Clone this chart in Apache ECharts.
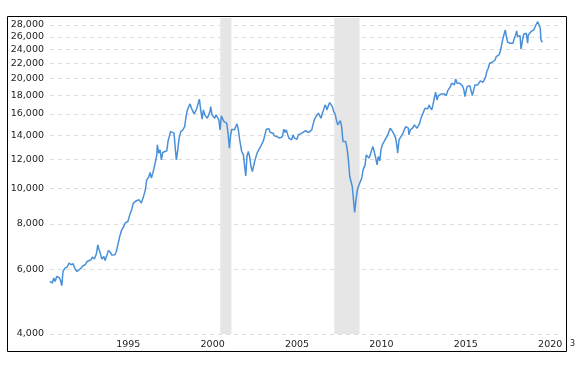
<!DOCTYPE html>
<html>
<head>
<meta charset="utf-8">
<script src="https://cdn.jsdelivr.net/npm/echarts@6/dist/echarts.min.js"></script>
<style>
html,body{margin:0;padding:0;background:#fff;}
#chart{width:583px;height:365px;}
</style>
</head>
<body>
<div id="chart"></div>
<script>
// Decimal-year dates and index values
const dates = [
1991.07,1991.14,1991.22,1991.30,1991.38,1991.48,1991.62,1991.69,1991.78,1991.85,1991.97,
1992.09,1992.21,1992.33,1992.45,1992.57,1992.68,1992.80,1992.92,
1993.04,1993.16,1993.28,1993.39,1993.51,1993.59,1993.71,1993.83,1993.91,1993.99,
1994.06,1994.15,1994.27,1994.34,1994.46,1994.54,1994.66,1994.74,1994.82,1994.93,
1995.01,1995.10,1995.21,1995.33,1995.45,1995.53,1995.60,1995.69,1995.76,1995.84,1995.92,
1996.00,1996.12,1996.24,1996.36,1996.49,1996.61,1996.73,1996.81,1996.93,
1997.01,1997.09,1997.17,1997.29,1997.41,1997.44,1997.52,1997.60,1997.68,1997.76,1997.88,
1998.00,1998.07,1998.15,1998.23,1998.31,1998.43,1998.51,1998.57,1998.65,1998.73,1998.83,1998.95,
1999.06,1999.14,1999.22,1999.30,1999.38,1999.46,1999.54,1999.62,1999.69,1999.78,1999.85,1999.93,
2000.01,2000.09,2000.17,2000.25,2000.33,2000.40,2000.49,2000.56,2000.60,2000.68,2000.76,2000.84,2000.92,
2001.00,2001.08,2001.16,2001.23,2001.32,2001.39,2001.47,2001.55,2001.63,2001.71,2001.77,2001.85,2001.93,
2002.00,2002.09,2002.16,2002.24,2002.32,2002.44,2002.54,2002.59,2002.68,2002.75,2002.83,2002.91,2002.99,
2003.07,2003.15,2003.23,2003.35,2003.47,2003.58,2003.66,2003.74,2003.82,2003.90,2003.98,
2004.06,2004.13,2004.22,2004.30,2004.37,2004.45,2004.53,2004.61,2004.69,2004.77,2004.85,2004.93,
2005.01,2005.08,2005.17,2005.24,2005.32,2005.40,2005.48,2005.56,2005.64,2005.72,2005.79,2005.88,
2006.00,2006.11,2006.23,2006.31,2006.39,2006.50,2006.59,2006.66,2006.74,2006.82,2006.90,2006.98,
2007.06,2007.14,2007.22,2007.30,2007.38,2007.45,2007.49,2007.57,2007.65,2007.73,2007.81,2007.89,2007.97,
2008.04,2008.13,2008.20,2008.28,2008.36,2008.44,2008.52,2008.60,2008.68,2008.76,2008.84,2008.92,2008.99,
2009.08,2009.13,2009.21,2009.29,2009.39,2009.47,2009.55,2009.63,2009.75,2009.82,2009.91,2009.98,
2010.06,2010.14,2010.22,2010.30,2010.38,2010.46,2010.53,2010.62,2010.69,2010.77,2010.85,2010.93,
2011.01,2011.09,2011.17,2011.24,2011.33,2011.40,2011.48,2011.56,2011.64,2011.68,2011.76,2011.84,2011.92,
2012.00,2012.07,2012.16,2012.23,2012.31,2012.35,2012.43,2012.51,2012.59,2012.67,2012.75,2012.83,2012.90,2012.99,
2013.06,2013.14,2013.22,2013.30,2013.38,2013.46,2013.54,2013.61,2013.70,2013.77,2013.85,2013.93,
2014.01,2014.09,2014.17,2014.25,2014.32,2014.41,2014.48,2014.56,2014.64,2014.72,2014.80,2014.88,2014.96,
2015.04,2015.12,2015.20,2015.27,2015.36,2015.43,2015.51,2015.59,2015.67,2015.71,2015.79,2015.86,2015.95,
2016.02,2016.10,2016.18,2016.26,2016.34,2016.42,2016.50,2016.58,2016.66,2016.74,2016.81,2016.90,2016.97,
2017.05,2017.13,2017.21,2017.29,2017.37,2017.45,2017.52,2017.61,2017.68,2017.76,2017.84,2017.92,
2018.00,2018.06,2018.12,2018.20,2018.28,2018.35,2018.44,2018.51,2018.59,2018.67,2018.73,2018.79,2018.87,2018.93,2018.99,
2019.06,2019.15,2019.22,2019.30,2019.38,2019.42,2019.50,2019.58,2019.66,2019.74,2019.82,2019.89,2019.98,
2020.05,2020.13,2020.17,2020.25
];
const values = [
5570,5628,5513,5689,5569,5747,5711,5628,5420,5930,6058,
6097,6252,6185,6224,6020,5930,5993,6058,
6146,6185,6316,6276,6383,6493,6412,6629,7015,6797,
6658,6412,6518,6355,6587,6768,6684,6575,6493,6587,
6726,7015,7391,7709,7872,8042,7956,8124,8210,8564,8743,
9081,9213,9271,9311,9121,9472,9916,10560,10742,
11058,10675,11016,11605,12359,13161,12493,12754,11976,12541,12620,
12675,13439,13868,14312,14222,14170,12754,11976,12754,13730,14312,14464,
14769,15728,16403,16749,17035,16581,16749,15997,16230,16581,17035,17546,
16403,15472,16403,15895,15728,15570,15728,16230,16749,15895,15993,15570,15895,
16068,15403,14464,15797,15669,15241,15336,15091,14168,12892,13868,14529,14621,
14464,14769,15021,14464,13582,12620,12359,11731,10830,12229,12620,12229,11483,
11127,11246,11976,12493,12811,13080,13304,13582,13730,14529,14649,
14557,14222,14106,14170,13930,13990,13868,13816,13730,13582,13868,14529,
14222,14464,14016,13730,13868,13582,14016,13730,13868,13641,14016,14170,
14170,14312,14401,14529,14222,14222,14464,14926,15403,15669,15797,16068,
15997,15570,16068,16476,16927,16686,16403,16822,17176,17176,16749,16230,15997,
15472,14926,15088,15336,14769,13439,13355,13439,12892,11976,10782,10742,10125,
9121,8597,9311,9916,10233,10170,10675,11246,11605,12359,12493,12106,
12359,12754,13023,12892,12106,11605,12229,11902,12754,13161,13023,13582,
13730,14016,14170,14621,14464,14258,14016,13730,13023,12493,13582,13782,13868,
14170,14464,14769,14926,14621,14016,14464,14621,14677,14926,14990,14621,14621,15088,
15570,15728,16230,16581,16749,16508,16927,16644,16403,16927,17658,18337,
17468,17948,18026,18100,18026,18176,18222,17948,18487,18487,18995,19405,19602,
19197,19937,19405,19528,19405,19405,19114,18717,17836,17658,18995,19197,19114,
18602,17948,18026,19197,19197,19197,19280,19687,19687,19528,19405,20228,20966,
21326,22007,22007,22146,22327,22466,22940,23083,23184,23673,24690,25756,
26579,27133,26016,25116,24895,24958,24895,24958,25756,26293,26965,26016,25756,26180,24032,
25211,26411,26579,26579,24958,26293,26579,26846,26579,27133,27133,28120,28590,
28300,27430,25479,25116
];
const yTickValues = [4000,6000,8000,10000,12000,14000,16000,18000,20000,22000,24000,26000,28000];
const xTickYears = [1995,2000,2005,2010,2015,2020];
const recessionStarts = [2001.17, 2007.92];
const recessionEnds = [2001.83, 2009.42];

const chart = echarts.init(document.getElementById('chart'), null, {renderer:'canvas'});
const lg = v => Math.log10(v);
const fmtNum = v => Math.round(v).toString().replace(/\B(?=(\d{3})+(?!\d))/g, ',');

const option = {
  animation: false,
  backgroundColor: '#ffffff',
  grid: {left: 50, right: 25, top: 18, bottom: 31, containLabel: false},
  xAxis: {
    type: 'value',
    min: 1991.08,
    max: 2021.18,
    axisLine: {show: false},
    axisTick: {show: false, customValues: xTickYears},
    splitLine: {show: false},
    axisLabel: {
      customValues: xTickYears,
      align: 'left',
      margin: 6,
      fontFamily: 'DejaVu Sans',
      fontSize: 9.5,
      color: '#222',
      formatter: v => String(Math.round(v))
    }
  },
  yAxis: {
    type: 'value',
    min: lg(4000),
    max: 4.46628,
    axisLine: {show: false},
    axisTick: {show: false, customValues: yTickValues.map(lg)},
    splitLine: {show: true, lineStyle: {color: '#dcdcdc', type: [4, 4], width: 1}},
    axisLabel: {
      customValues: yTickValues.map(lg),
      margin: 6,
      fontFamily: 'DejaVu Sans',
      fontSize: 9.5,
      color: '#222',
      formatter: v => fmtNum(Math.pow(10, v) / 1000 >= 0 ? Math.round(Math.pow(10, v) / 1000) * 1000 : 0)
    }
  },
  series: [
    {
      type: 'line',
      z: 1,
      data: [],
      silent: true,
      markArea: {
        silent: true,
        itemStyle: {color: '#e6e6e6'},
        data: recessionStarts.map((s, i) => [{xAxis: s}, {xAxis: recessionEnds[i]}])
      }
    },
    {
      type: 'line',
      z: 3,
      showSymbol: false,
      symbol: 'none',
      lineStyle: {color: '#4a90d9', width: 1.5},
      data: dates.map((d, i) => [d, lg(values[i])])
    }
  ],
  graphic: [
    {
      type: 'rect',
      silent: true,
      z: 100,
      shape: {x: 7.5, y: 16.5, width: 559, height: 335},
      style: {fill: null, stroke: '#000', lineWidth: 1}
    },
    {
      type: 'text',
      silent: true,
      z: 100,
      left: 570,
      top: 340,
      style: {text: '3', fontFamily: 'DejaVu Sans', fontSize: 8, fill: '#222'}
    }
  ]
};
chart.setOption(option);
</script>
</body>
</html>
